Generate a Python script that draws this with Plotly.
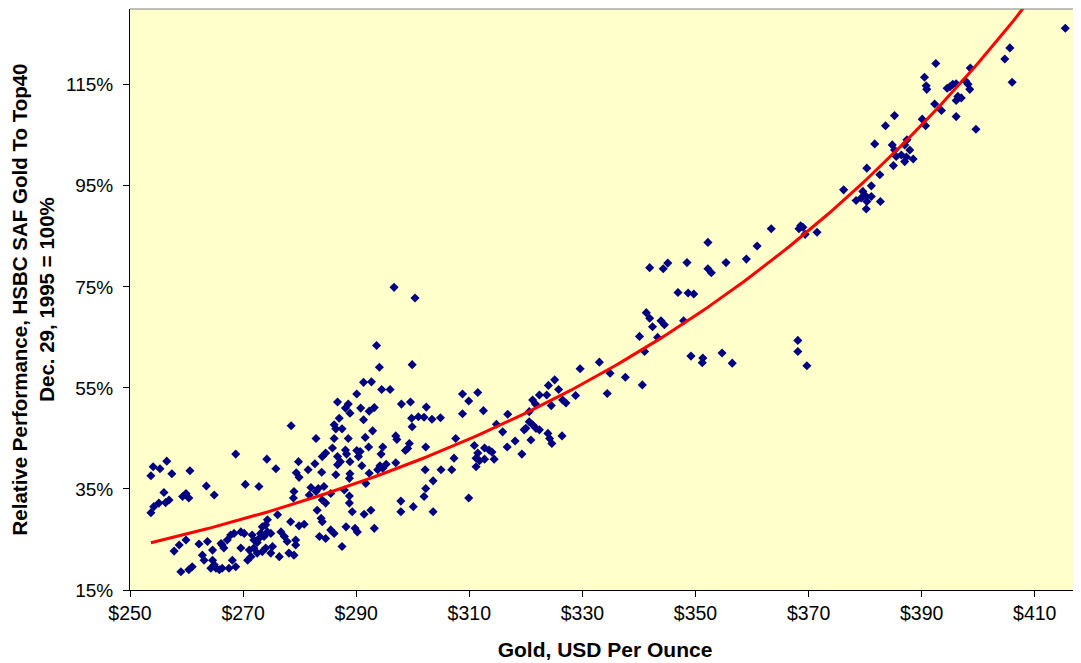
import numpy as np
import plotly.graph_objects as go

# Gold price (USD/oz) and relative performance (%)
gold_left = [278.5, 282.9, 268.7, 274.2, 256.5, 254.1, 255.3, 260.6, 257.4, 253.7, 275.8, 279.8, 279.4, 281.5,
             282.7, 284.0, 284.6, 283.9, 279.9, 263.5, 270.4, 272.8, 282.0, 283.3,
             256.0, 256.9, 256.3, 255.1, 254.2, 253.7, 259.9, 259.3, 260.4, 264.9, 259.9, 258.7, 257.8, 262.2,
             263.7, 264.6, 266.1, 267.2, 267.8, 268.4, 266.6, 266.3, 262.8, 263.1, 264.6, 264.9, 265.2, 265.8,
             266.3, 264.3, 261.0, 260.4, 259.0, 268.1, 268.7, 267.5]
perf_left = [47.5, 45.0, 41.9, 40.9, 40.5, 39.4, 39.0, 38.6, 38.0, 37.6, 39.0, 40.4, 38.2, 38.8,
             40.0, 41.4, 42.1, 38.3, 37.3, 35.6, 35.9, 35.5, 35.3, 35.1,
             34.3, 32.8, 32.3, 32.2, 31.5, 30.3, 34.1, 33.5, 33.2, 33.8, 24.9, 23.9, 22.7, 24.1,
             24.6, 22.9, 24.2, 24.9, 25.9, 26.2, 23.3, 23.9, 21.9, 20.9, 20.9, 20.0, 19.3, 19.0,
             19.3, 19.3, 19.6, 19.0, 18.6, 20.9, 19.6, 19.3]

gold_low = [279.0, 278.9, 281.7, 282.9, 284.0, 284.6, 285.5, 276.1, 278.4, 279.9, 280.8, 283.8, 284.0, 274.3,
            273.4, 274.0, 274.3, 273.1, 274.9, 273.7, 272.8, 271.9, 272.5, 271.6, 270.2, 269.6, 276.7, 277.3,
            277.8, 279.3, 279.3, 283.5, 284.6, 269.6, 271.1, 271.9, 273.4, 274.0, 272.5, 271.4, 270.8, 275.2,
            274.9, 276.4, 278.1, 279.0, 283.1]
perf_low = [34.5, 33.2, 33.8, 34.5, 32.8, 32.2, 34.1, 29.9, 28.5, 27.7, 28.0, 29.2, 28.5, 28.9,
            27.5, 27.9, 26.5, 26.2, 26.2, 25.6, 25.2, 24.9, 24.4, 25.9, 26.2, 26.5, 26.5, 25.6,
            24.6, 24.9, 23.9, 25.6, 25.2, 23.3, 22.9, 23.3, 22.6, 23.3, 22.3, 21.6, 20.9, 23.6,
            22.3, 21.6, 22.3, 21.9, 30.8]

gold_mid = [293.6, 294.1, 299.9, 291.3, 292.7, 294.5, 296.0, 308.8, 309.9, 290.1, 286.7, 288.6, 288.1, 288.9,
            290.8, 292.3, 293.2, 298.0, 299.6, 302.4, 308.8, 287.0, 291.3, 299.8, 301.0, 302.0, 303.4, 304.9,
            299.9, 286.1, 286.4, 287.5, 292.9, 286.1, 288.6, 291.6, 297.0, 297.2, 299.4, 299.1, 298.7, 302.3,
            307.6, 307.3, 294.7, 294.4, 292.2, 285.8, 288.1, 288.3, 290.1, 290.7, 286.7, 286.7, 287.2, 291.0,
            290.4, 288.9, 297.0, 295.3, 294.7, 293.8, 294.2, 292.3, 291.7, 288.9, 288.8, 286.4, 302.2, 305.0,
            306.9, 303.6, 302.3, 302.0, 297.9, 300.1, 297.9, 303.6, 309.9, 292.6, 291.4, 289.3, 288.8, 288.8,
            287.9, 284.3, 288.2, 289.8, 290.2, 293.2, 287.5, 285.5, 286.1, 296.7, 300.4]
perf_mid = [63.4, 59.1, 59.6, 56.1, 56.2, 54.7, 54.7, 53.8, 52.4, 53.8, 52.2, 51.8, 51.0, 50.0,
            51.0, 50.4, 51.1, 51.8, 52.2, 51.2, 49.9, 49.0, 48.7, 49.0, 49.3, 49.2, 48.8, 49.1,
            47.3, 47.7, 46.9, 46.9, 46.5, 45.0, 45.0, 45.2, 45.5, 44.8, 44.0, 43.0, 42.6, 43.3,
            45.0, 41.1, 43.3, 41.9, 43.3, 43.1, 42.7, 41.9, 42.6, 42.4, 41.4, 39.8, 40.4, 39.6,
            41.4, 40.4, 40.2, 39.9, 39.1, 38.8, 39.6, 38.1, 36.1, 38.0, 37.1, 37.8, 38.8, 38.8,
            38.8, 36.6, 35.1, 33.5, 32.6, 31.5, 30.5, 30.5, 33.2, 30.8, 30.0, 30.5, 32.2, 33.6,
            34.8, 35.5, 27.5, 27.2, 26.5, 27.2, 23.6, 26.9, 26.2, 74.9, 72.8]

gold_up = [341.9, 341.3, 341.9, 342.4, 340.1, 343.3, 341.0, 333.0, 329.6, 334.9, 337.6, 340.6, 334.4, 325.1,
           324.0, 325.8, 322.4, 323.7, 328.8, 321.2, 321.7, 324.5, 326.5, 327.1, 311.5, 312.5, 316.8, 320.6,
           314.8, 315.9, 320.6, 321.2, 320.0, 319.7, 321.8, 322.4, 323.9, 324.2, 324.6, 326.4, 320.9, 318.1,
           316.7, 319.3, 310.9, 312.7, 313.5, 314.0, 311.5, 311.2, 311.8, 312.7, 314.4, 311.2]
perf_up = [78.8, 69.9, 68.8, 67.1, 65.2, 65.0, 62.2, 60.1, 58.8, 57.9, 57.1, 55.6, 53.9, 56.6,
           55.5, 54.7, 53.6, 53.6, 53.5, 52.6, 51.8, 51.5, 52.6, 52.0, 54.1, 50.5, 49.8, 50.3,
           47.8, 46.3, 48.3, 47.7, 47.0, 46.7, 47.0, 46.7, 46.0, 45.0, 44.0, 45.5, 44.7, 44.5,
           43.3, 41.9, 43.6, 43.1, 42.7, 42.3, 42.1, 41.1, 40.6, 40.9, 40.9, 39.4]

gold_high = [363.4, 368.6, 368.3, 369.0, 369.4, 371.5, 352.2, 360.9, 345.1, 344.3, 348.5, 355.4, 359.0, 352.2,
             352.8, 346.9, 348.7, 349.7, 343.9, 344.5, 347.9, 349.2, 351.3, 351.2, 354.7, 356.5, 368.1, 368.1,
             369.7]
perf_high = [86.5, 87.1, 86.5, 86.8, 85.4, 85.8, 83.8, 83.1, 79.7, 78.6, 79.8, 79.8, 80.5, 78.6,
             77.8, 73.9, 73.8, 73.6, 68.3, 67.5, 68.3, 61.3, 60.9, 60.0, 61.9, 59.9, 64.4, 62.2,
             59.4]

gold_top = [392.5, 390.5, 390.8, 390.9, 398.6, 404.7, 406.0, 394.5, 395.0, 395.5, 396.1, 397.8, 398.2, 398.5,
            396.4, 397.0, 396.1, 392.3, 393.5, 396.1, 399.6, 385.2, 383.6, 390.1, 390.7, 387.4, 387.0, 381.7,
            384.8, 385.2, 387.9, 386.4, 387.3, 388.5, 387.0, 385.5, 385.0, 380.3, 382.6, 381.1, 376.2, 379.6,
            380.2, 381.1, 379.3, 378.4, 380.3, 382.7, 380.2, 415.4, 405.6]
perf_top = [119.2, 116.5, 114.8, 114.1, 118.3, 120.1, 115.5, 114.3, 114.6, 115.1, 115.2, 115.7, 115.1, 114.1,
            112.7, 112.4, 111.9, 111.2, 109.9, 108.7, 106.2, 108.9, 106.9, 108.2, 106.9, 104.1, 103.1, 103.3,
            103.1, 102.1, 102.1, 101.1, 100.7, 100.3, 99.8, 100.8, 99.0, 98.5, 97.2, 95.0, 94.2, 93.9,
            92.9, 92.9, 92.6, 92.1, 91.9, 91.9, 90.4, 126.2, 122.3]

# Exponential trendline y = a * exp(b * x), coefficients
trend_a = 1.5456
trend_b = 0.010866

x_ticks = [250, 270, 290, 310, 330, 350, 370, 390, 410]
x_tick_labels = ["$250", "$270", "$290", "$310", "$330", "$350", "$370", "$390", "$410"]
y_ticks = [15, 35, 55, 75, 95, 115]
y_tick_labels = ["15%", "35%", "55%", "75%", "95%", "115%"]

gold = np.array(gold_left + gold_low + gold_mid + gold_up + gold_high + gold_top)
perf = np.array(perf_left + perf_low + perf_mid + perf_up + perf_high + perf_top)

tx = np.linspace(gold.min(), gold.max(), 200)
ty = trend_a * np.exp(trend_b * tx)

FONT = "Arial, 'Liberation Sans', sans-serif"

fig = go.Figure()
fig.add_trace(go.Scatter(x=gold, y=perf, mode="markers",
                         marker=dict(symbol="diamond", size=7, color="#000080", line=dict(width=0)),
                         showlegend=False, cliponaxis=True))
fig.add_trace(go.Scatter(x=tx, y=ty, mode="lines", line=dict(color="#FF0000", width=3),
                         showlegend=False))

# page body has an 8px margin: figure is sized so the plot area lands where the reference has it
fig.update_layout(
    width=1073, height=655,
    margin=dict(l=122, r=1, t=1, b=73, autoexpand=False),
    paper_bgcolor="white",
    plot_bgcolor="#FFFFCC",
    font=dict(family=FONT, size=19, color="black"),
    xaxis=dict(range=[250, 418], tickvals=x_ticks, ticktext=x_tick_labels, automargin=False,
               ticks="outside", ticklen=6, tickcolor="black", showgrid=False, zeroline=False,
               showline=True, linecolor="black", linewidth=1,
               tickfont=dict(size=19.5), ticklabelstandoff=0,
               title=dict(text="Gold, USD Per Ounce", font=dict(size=21, weight="bold"), standoff=18)),
    yaxis=dict(range=[15, 130], tickvals=y_ticks, ticktext=y_tick_labels, automargin=False,
               ticks="outside", ticklen=6, tickcolor="black", showgrid=False, zeroline=False,
               showline=True, linecolor="black", linewidth=1,
               tickfont=dict(size=19), ticklabelstandoff=6,
               title=dict(text="Relative Performance, HSBC SAF Gold To Top40<br>Dec. 29, 1995 = 100%",
                          font=dict(size=20.5, weight="bold"), standoff=12)),
    shapes=[dict(type="line", xref="paper", yref="paper", x0=0, x1=1, y0=1, y1=1,
                 line=dict(color="#808080", width=1))],
)

fig.write_html("out.html")
